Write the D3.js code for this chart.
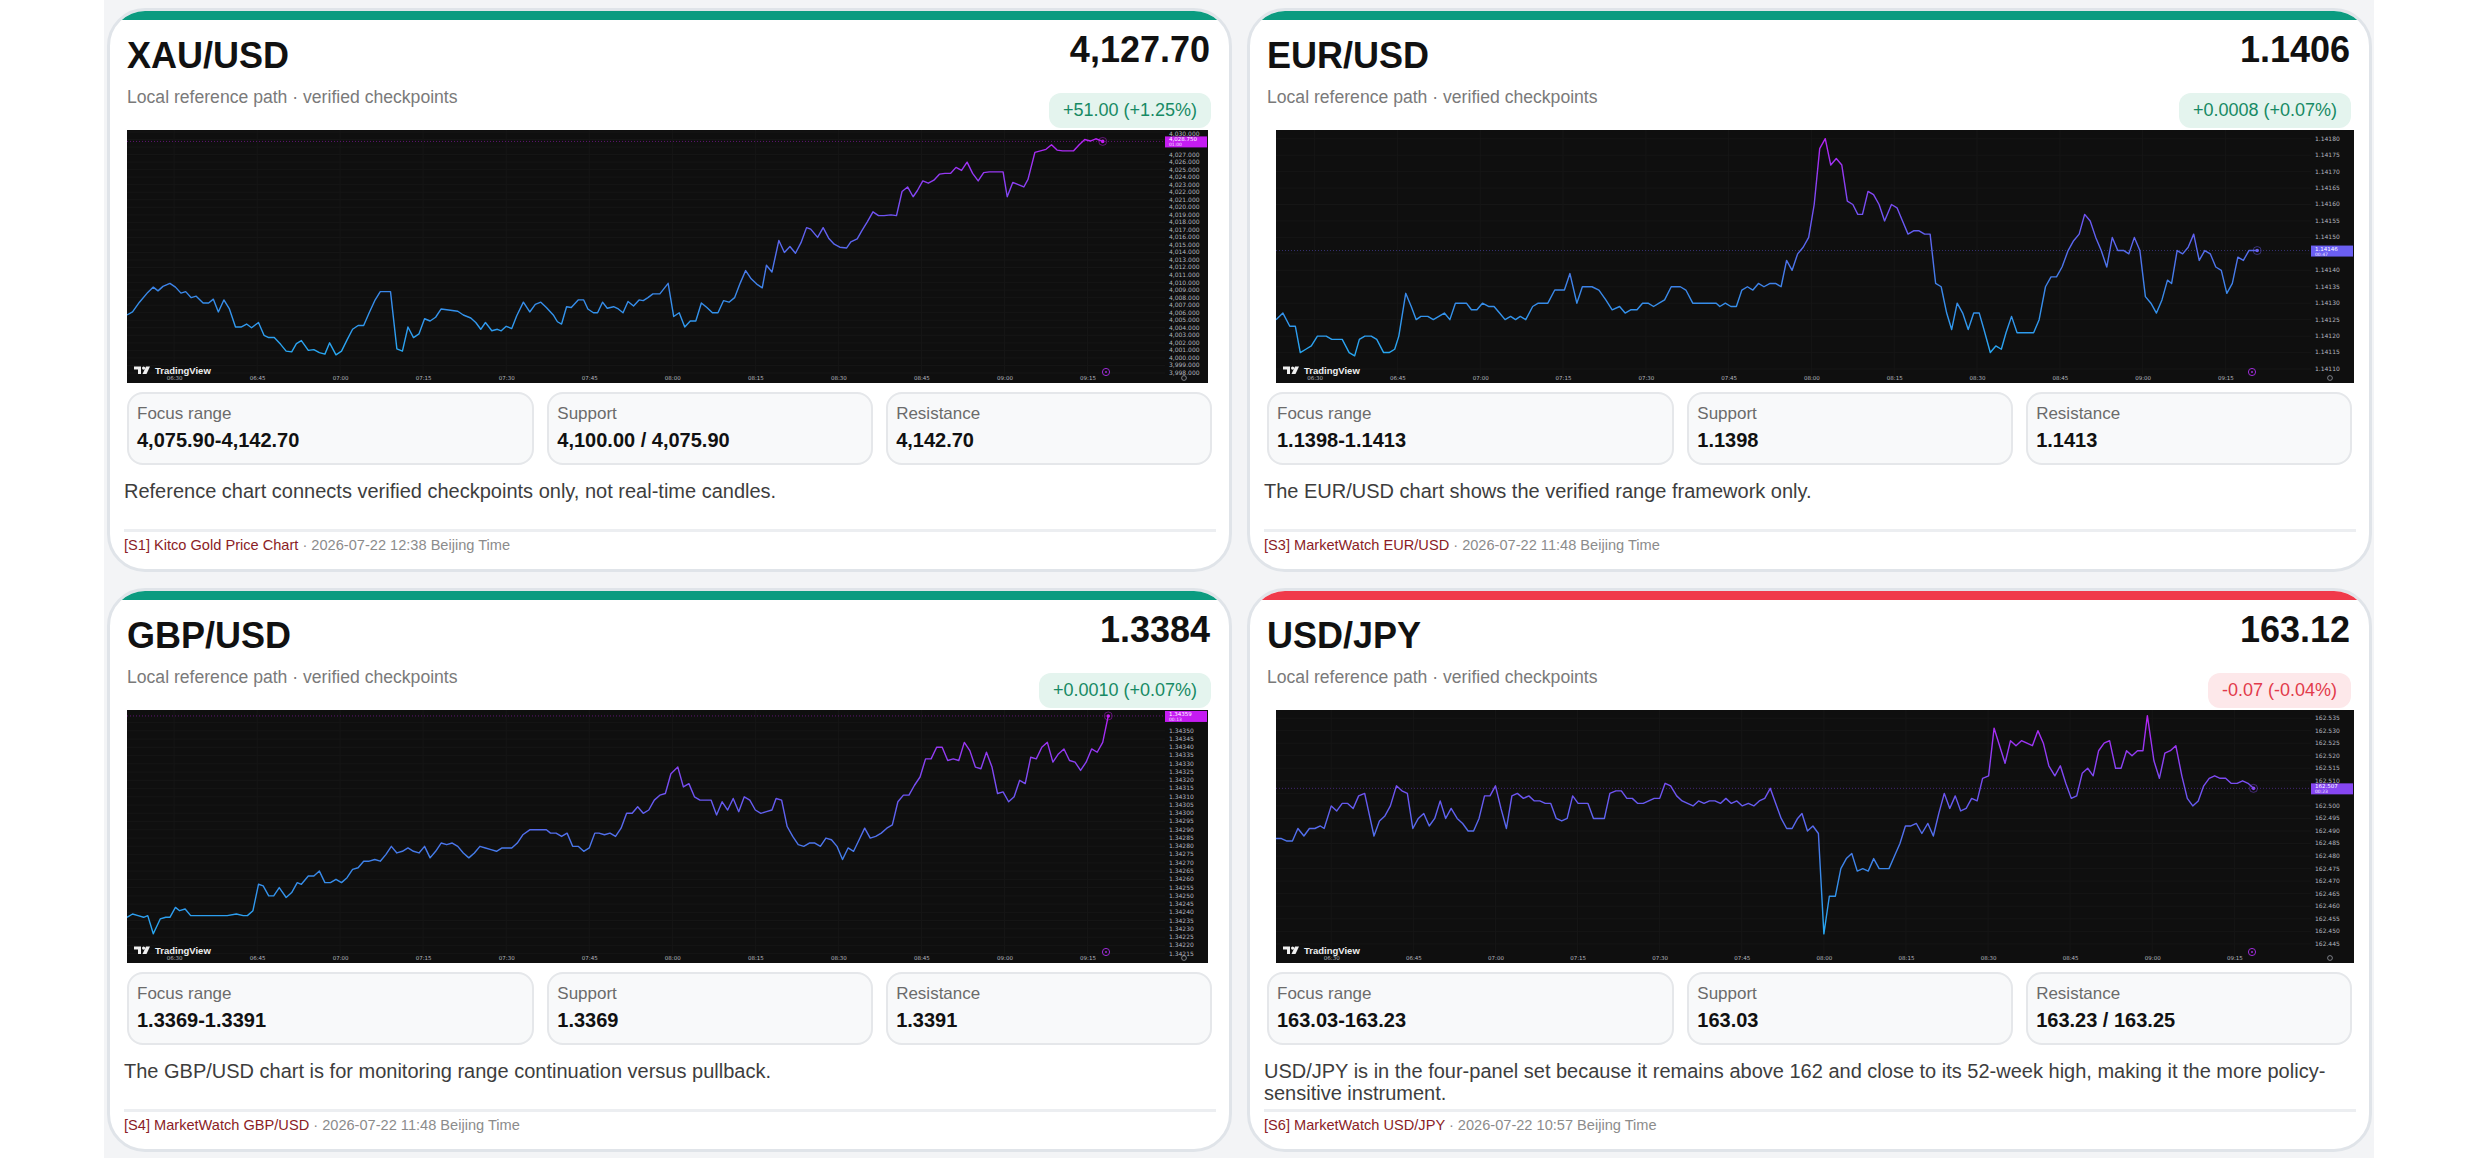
<!DOCTYPE html>
<html>
<head>
<meta charset="utf-8">
<script src="https://cdn.jsdelivr.net/npm/d3@7"></script>
<style>
html, body { margin: 0; padding: 0; width: 2480px; height: 1158px; overflow: hidden; background: #fff;
  font-family: "Liberation Sans", Arial, Helvetica, sans-serif; }
#page { position: absolute; left: 104px; top: 0; width: 2270px; height: 1158px; background: #f3f4f6; }
.card { position: absolute; width: 1125px; height: 564px; box-sizing: border-box; border: 3px solid #e0e4e9;
  border-radius: 38px; background: #fff; overflow: hidden; }
.card > * { position: absolute; }
.bar { left: 0; top: 0; width: 100%; height: 9px; }
.bar.up { background: #0b9b80; }
.bar.down { background: #f03a4a; }
.title { left: 17px; top: 27px; font-weight: bold; font-size: 36px; line-height: 36px; color: #111; }
.price { right: 19px; top: 21px; font-weight: bold; font-size: 36px; line-height: 36px; color: #111; }
.sub { left: 17px; top: 76px; font-size: 17.6px; line-height: 20px; color: #7a7a7a; white-space: nowrap; }
.badge { right: 18px; top: 82px; height: 35px; line-height: 35px; padding: 0 14px; border-radius: 12px; font-size: 18px; white-space: nowrap; }
.badge.up { background: #e4f4ee; color: #178a64; }
.badge.down { background: #fde8ea; color: #e23b4b; }
.chart { top: 119px; }
.stats { left: 17px; top: 381px; width: 1085px; display: grid; grid-template-columns: 1.25fr 1fr 1fr; column-gap: 13px; }
.stat { height: 73px; box-sizing: border-box; border: 2px solid #e5e7ea; border-radius: 16px; background: #f8f9fa; padding: 10px 8px 0 8px; }
.lab { font-size: 17px; line-height: 20px; color: #6b6b6b; white-space: nowrap; }
.val { font-size: 20px; line-height: 24px; font-weight: bold; color: #111; margin-top: 4px; white-space: nowrap; }
.note { left: 14px; top: 469px; width: 1092px; font-size: 20px; line-height: 22px; color: #3d3d3d; }
.rule { left: 14px; top: 518px; width: 1092px; height: 3px; background: #eceef1; }
.foot { left: 14px; top: 525px; font-size: 14.6px; line-height: 18px; color: #8c8c8c; white-space: nowrap; }
.foot .src { color: #8b1d26; }
</style>
</head>
<body>
<div id="page"></div>
<script>
// card text
var pairs = ["XAU/USD", "EUR/USD", "GBP/USD", "USD/JPY"];
var lastPrices = ["4,127.70", "1.1406", "1.3384", "163.12"];
var changes = ["+51.00 (+1.25%)", "+0.0008 (+0.07%)", "+0.0010 (+0.07%)", "-0.07 (-0.04%)"];
var directions = ["up", "up", "up", "down"];
var focusRanges = ["4,075.90-4,142.70", "1.1398-1.1413", "1.3369-1.3391", "163.03-163.23"];
var supports = ["4,100.00 / 4,075.90", "1.1398", "1.3369", "163.03"];
var resistances = ["4,142.70", "1.1413", "1.3391", "163.23 / 163.25"];
var notes = [
  "Reference chart connects verified checkpoints only, not real-time candles.",
  "The EUR/USD chart shows the verified range framework only.",
  "The GBP/USD chart is for monitoring range continuation versus pullback.",
  "USD/JPY is in the four-panel set because it remains above 162 and close to its 52-week high, making it the more policy-sensitive instrument."
];
var sources = ["[S1] Kitco Gold Price Chart", "[S3] MarketWatch EUR/USD", "[S4] MarketWatch GBP/USD", "[S6] MarketWatch USD/JPY"];
var stamps = ["2026-07-22 12:38 Beijing Time", "2026-07-22 11:48 Beijing Time", "2026-07-22 11:48 Beijing Time", "2026-07-22 10:57 Beijing Time"];

// chart series: [minutes after 06:00, price]
var xauSeries = [[21.5,4005.7],[22.5,4006.1],[23.75,4007.4],[25.25,4008.7],[26.25,4009.4],[27.1,4008.9],[28,4009.5],[29.25,4009.9],[30.25,4009.4],[31.25,4008.6],[32.1,4008.8],[33.1,4008.0],[34,4008.2],[35.25,4007.3],[36.25,4007.3],[37.1,4007.8],[38,4006.1],[39,4007.7],[40,4006.5],[41.1,4004.1],[42.1,4004.1],[43.1,4004.5],[44,4004.0],[45.25,4004.7],[46.25,4003.0],[47.1,4002.7],[48.1,4002.7],[49.25,4001.8],[50.25,4000.9],[51.25,4000.8],[52.1,4001.9],[53,4002.3],[54.25,4001.0],[55.25,4001.1],[56.25,4000.7],[57.25,4000.5],[58.1,4002.0],[59.25,4000.4],[60.25,4000.9],[61.25,4002.4],[62.25,4003.8],[63.25,4004.3],[64.25,4004.3],[65.25,4006.0],[66.25,4007.6],[67.25,4008.8],[69.1,4008.8],[70.25,4001.2],[71.25,4000.9],[72.25,4004.1],[73.25,4002.7],[74.25,4003.2],[75.25,4005.2],[76.25,4004.9],[77.25,4005.4],[78.25,4006.5],[79.25,4006.4],[81.25,4006.2],[82.25,4005.7],[83.6,4005.3],[84.5,4004.7],[85.4,4003.8],[86.25,4004.7],[87.4,4003.6],[88.4,4003.8],[89.1,4003.6],[90,4004.2],[91,4003.9],[91.9,4005.6],[93.1,4007.4],[94.25,4006.1],[95.25,4007.1],[96.25,4007.4],[97.25,4006.7],[98.5,4005.7],[99.25,4004.8],[100,4004.5],[100.9,4006.8],[101.75,4006.7],[103,4007.7],[104,4007.7],[104.75,4006.5],[105.75,4006.0],[106.5,4006.0],[107.4,4007.4],[108.25,4006.6],[109.4,4006.8],[110.25,4006.5],[111.1,4006.0],[112,4007.5],[113,4006.9],[114,4007.7],[114.75,4007.6],[115.6,4008.0],[116.5,4008.5],[117.75,4008.5],[119.25,4009.9],[120.25,4005.5],[121.25,4006.0],[122.25,4004.1],[123.25,4004.9],[124.25,4004.9],[125.25,4007.3],[126.25,4006.7],[127.25,4006.0],[128.25,4006.0],[129.25,4007.6],[130.25,4007.4],[131.25,4008.0],[132.25,4009.9],[133.25,4011.6],[134.25,4010.5],[135.25,4009.8],[136.25,4009.3],[137,4012.3],[138,4011.4],[139.25,4015.6],[140.25,4014.0],[141.25,4014.8],[142.25,4013.9],[143.25,4015.3],[144.25,4017.3],[145,4017.1],[146.25,4016.0],[147.25,4017.3],[148.25,4015.9],[149.25,4015.1],[150.25,4014.7],[151.5,4014.6],[152.25,4015.4],[153.4,4015.8],[154.25,4016.9],[155.25,4018.1],[156.25,4019.4],[157.25,4018.9],[158.25,4018.9],[159.5,4019.0],[160.5,4018.9],[161.5,4022.1],[162.5,4022.7],[163.5,4021.4],[164.25,4022.2],[165.25,4023.5],[166.25,4023.2],[167.25,4023.6],[168.25,4024.4],[169.25,4024.5],[170.25,4024.5],[171.25,4025.3],[172.25,4024.9],[173.25,4026.0],[174.25,4024.5],[175.25,4023.5],[176.25,4024.6],[177.25,4024.7],[178.75,4024.7],[179.75,4024.7],[180.5,4021.4],[181.5,4023.3],[182.5,4023.0],[183.5,4022.7],[184.25,4023.7],[185.5,4027.3],[186.5,4027.5],[187.5,4027.7],[188.5,4028.3],[189.5,4027.6],[190.5,4027.5],[191.5,4027.5],[192.5,4027.5],[193.5,4028.3],[194.5,4029.0],[195.5,4028.8],[196.5,4029.1],[197.75,4028.75]];

var eurSeries = [[23,1.14125],[24.25,1.14127],[25.5,1.14123],[26.5,1.14123],[27.4,1.14115],[28.4,1.14116],[29.4,1.14117],[30.5,1.14120],[32.1,1.14120],[33.1,1.14119],[35,1.14119],[36.25,1.14115],[37.25,1.14114],[38.1,1.14119],[39.1,1.14120],[40.25,1.14120],[41.25,1.14119],[42.5,1.14115],[43.5,1.14115],[44.5,1.14116],[45.25,1.14120],[46.5,1.14133],[47.5,1.14129],[48.4,1.14125],[49.25,1.14126],[50.5,1.14126],[51.5,1.14125],[52.5,1.14126],[53.5,1.14127],[54.5,1.14125],[55.5,1.14130],[57.5,1.14130],[58.4,1.14128],[59.4,1.14128],[60.4,1.14130],[61.5,1.14129],[62.5,1.14129],[63.5,1.14127],[64.5,1.14125],[65.5,1.14126],[66.4,1.14125],[67.25,1.14126],[68.25,1.14125],[69.5,1.14129],[70.5,1.14130],[72.25,1.14130],[73.5,1.14134],[75.25,1.14134],[76.25,1.14139],[77.5,1.14130],[78.5,1.14135],[80.25,1.14135],[81.5,1.14134],[82.75,1.14131],[83.9,1.14128],[85.25,1.14129],[86.25,1.14127],[87.25,1.14128],[88.4,1.14128],[89.4,1.14130],[90.4,1.14130],[91.4,1.14129],[92.4,1.14130],[93.4,1.14131],[94.6,1.14135],[96.25,1.14135],[97.25,1.14134],[98.5,1.14130],[102.75,1.14130],[103.4,1.14129],[104.4,1.14130],[105.4,1.14129],[106.4,1.14129],[107.4,1.14134],[108.4,1.14135],[109.4,1.14134],[110.4,1.14136],[111.4,1.14135],[112.5,1.14136],[113.5,1.14136],[114.5,1.14135],[115.5,1.14143],[116.5,1.14140],[117.5,1.14145],[118.5,1.14147],[119.5,1.14150],[120.5,1.14160],[121.5,1.14177],[122.5,1.14180],[123.5,1.14172],[124.5,1.14174],[125.5,1.14172],[126.5,1.14161],[127.5,1.14160],[128.4,1.14157],[129.25,1.14157],[130.25,1.14164],[131.25,1.14163],[132.25,1.14160],[133.25,1.14155],[134.5,1.14160],[135.5,1.14159],[136.5,1.14155],[137.5,1.14151],[138.5,1.14152],[139.5,1.14152],[140.5,1.14151],[141.5,1.14151],[142.5,1.14136],[143.5,1.14135],[144.5,1.14127],[145.4,1.14122],[146.4,1.14130],[147.4,1.14127],[148.4,1.14122],[149.4,1.14127],[150.4,1.14127],[151.25,1.14122],[152.4,1.14115],[153.4,1.14117],[154.4,1.14116],[155.25,1.14121],[156.25,1.14126],[157.25,1.14121],[160.25,1.14121],[161.25,1.14125],[162.4,1.14135],[163.4,1.14138],[164.4,1.14138],[165.4,1.14141],[166.5,1.14146],[167.5,1.14149],[168.5,1.14151],[169.5,1.14157],[170.5,1.14155],[171.5,1.14150],[172.5,1.14146],[173.5,1.14141],[174.5,1.14150],[175.5,1.14146],[176.6,1.14146],[177.5,1.14145],[178.5,1.14150],[179.5,1.14146],[180.5,1.14132],[181.5,1.14130],[182.5,1.14127],[183.5,1.14131],[184.5,1.14137],[185.25,1.14136],[186.25,1.14146],[187.25,1.14145],[188.25,1.14147],[189.25,1.14151],[190.25,1.14143],[191.25,1.14146],[192.25,1.14145],[193.25,1.14141],[194.25,1.14140],[195.25,1.14133],[196.25,1.14136],[197.25,1.14144],[198.25,1.14143],[199.25,1.14146],[200.75,1.14146]];

var gbpSeries = [[21.5,1.34237],[22.5,1.34239],[23.5,1.34238],[24.5,1.34237],[25.25,1.34238],[26.25,1.34227],[27.5,1.34236],[28.5,1.34237],[29.25,1.34237],[30.25,1.34243],[31,1.34241],[32,1.34242],[33,1.34238],[34.5,1.34238],[35.5,1.34238],[36.5,1.34238],[38.4,1.34238],[39.6,1.34238],[41.25,1.34239],[42.5,1.34238],[43.25,1.34238],[44.25,1.34241],[45.25,1.34257],[46.1,1.34256],[47.1,1.34250],[48,1.34250],[49,1.34255],[50.25,1.34249],[51.25,1.34252],[52.25,1.34258],[53,1.34257],[54.25,1.34262],[55.25,1.34262],[56.25,1.34265],[57.25,1.34258],[58.25,1.34258],[59.25,1.34260],[60.25,1.34258],[61.25,1.34261],[62.25,1.34266],[63.25,1.34267],[64.25,1.34271],[65.25,1.34271],[66.25,1.34272],[67.25,1.34271],[68.25,1.34275],[69.25,1.34280],[70.25,1.34276],[71.25,1.34277],[72.25,1.34279],[73.25,1.34277],[74.25,1.34276],[75.25,1.34280],[76.25,1.34273],[77.25,1.34277],[78.25,1.34282],[79.25,1.34281],[80.25,1.34282],[81.25,1.34280],[82.25,1.34276],[83.25,1.34273],[84.25,1.34276],[85.25,1.34280],[86.25,1.34279],[87.25,1.34278],[88.25,1.34277],[89.25,1.34279],[91,1.34279],[92,1.34282],[93,1.34287],[94.25,1.34290],[95.25,1.34290],[97.25,1.34290],[98,1.34288],[99,1.34288],[100,1.34286],[101,1.34288],[102,1.34280],[103,1.34280],[104,1.34277],[105,1.34279],[106,1.34288],[106.75,1.34288],[107.75,1.34287],[108.75,1.34288],[109.75,1.34286],[110.75,1.34291],[111.75,1.34300],[112.75,1.34300],[113.75,1.34304],[114.75,1.34300],[115.75,1.34302],[116.75,1.34308],[117.75,1.34311],[118.75,1.34312],[119.75,1.34324],[121,1.34328],[122,1.34316],[123,1.34318],[124,1.34310],[125,1.34308],[126,1.34308],[127,1.34308],[128,1.34299],[129,1.34307],[130,1.34302],[131,1.34309],[132,1.34301],[133,1.34310],[134,1.34308],[135,1.34302],[136,1.34300],[137,1.34301],[138,1.34302],[138.75,1.34309],[139.75,1.34308],[140.75,1.34292],[141.75,1.34286],[142.75,1.34281],[143.75,1.34280],[144.75,1.34282],[145.75,1.34282],[146.75,1.34280],[147.75,1.34285],[148.75,1.34284],[149.75,1.34280],[150.75,1.34272],[151.75,1.34279],[152.75,1.34277],[153.75,1.34284],[154.75,1.34291],[155.75,1.34285],[156.75,1.34286],[157.75,1.34288],[158.75,1.34291],[159.75,1.34293],[160.75,1.34307],[161.75,1.34311],[162.75,1.34311],[163.75,1.34317],[164.75,1.34322],[165.75,1.34333],[166.75,1.34333],[167.75,1.34340],[168.75,1.34340],[169.75,1.34332],[170.75,1.34333],[171.75,1.34332],[172.75,1.34343],[173.75,1.34338],[174.75,1.34328],[175.75,1.34327],[176.75,1.34337],[177.75,1.34328],[178.75,1.34312],[179.75,1.34313],[180.75,1.34307],[181.75,1.34310],[182.75,1.34320],[183.75,1.34318],[184.75,1.34334],[185.75,1.34333],[186.75,1.34340],[187.75,1.34343],[188.75,1.34331],[189.75,1.34336],[190.75,1.34339],[191.75,1.34332],[192.75,1.34331],[193.75,1.34326],[194.75,1.34331],[195.75,1.34339],[196.75,1.34337],[197.75,1.34343],[198.75,1.34359]];

var jpySeries = [[19.9,162.487],[20.9,162.487],[21.9,162.486],[22.9,162.486],[23.9,162.491],[25,162.488],[26,162.491],[27,162.491],[28,162.492],[28.7,162.491],[30,162.500],[31,162.498],[32,162.501],[33,162.501],[34,162.499],[35,162.504],[36.1,162.505],[37.1,162.495],[37.8,162.488],[38.8,162.494],[39.8,162.496],[40.8,162.500],[41.9,162.508],[42.9,162.506],[43.9,162.505],[44.9,162.491],[45.9,162.495],[46.9,162.497],[47.9,162.492],[48.9,162.495],[49.9,162.502],[50.9,162.495],[51.9,162.499],[53,162.495],[54,162.493],[55,162.490],[56,162.490],[57,162.495],[58,162.504],[59,162.504],[60,162.508],[61,162.499],[62,162.491],[63,162.504],[64,162.505],[65.1,162.503],[66.1,162.504],[67.1,162.502],[68.1,162.502],[69.1,162.501],[70.1,162.501],[71.1,162.495],[72.1,162.494],[73.1,162.495],[74.1,162.504],[75.1,162.501],[76.2,162.501],[76.9,162.501],[77.9,162.495],[79.9,162.495],[80.9,162.505],[82,162.506],[83,162.506],[84,162.503],[85,162.503],[86,162.501],[87,162.501],[88,162.502],[89,162.503],[90,162.503],[91,162.509],[92,162.508],[93.1,162.504],[94.1,162.502],[95.1,162.501],[96.1,162.500],[97.1,162.502],[98.1,162.501],[99.1,162.502],[100.1,162.502],[101.1,162.501],[102.1,162.503],[103.1,162.501],[104.1,162.502],[105.1,162.500],[106.2,162.501],[107.2,162.500],[108.2,162.502],[109.2,162.503],[110.2,162.507],[111.2,162.501],[112.2,162.495],[113.2,162.491],[114.2,162.491],[115.2,162.495],[116,162.497],[117,162.490],[118,162.492],[119,162.489],[120,162.449],[121,162.464],[122.1,162.464],[123.1,162.475],[124.1,162.479],[125.1,162.481],[126.1,162.474],[127.1,162.475],[128.1,162.474],[129.1,162.479],[130.1,162.475],[131.9,162.475],[132.9,162.480],[133.9,162.485],[134.9,162.492],[135.9,162.492],[136.9,162.493],[137.9,162.489],[139,162.493],[140,162.488],[141,162.497],[142,162.505],[143,162.499],[144,162.504],[145,162.498],[146,162.499],[147,162.503],[148,162.502],[149,162.511],[150.1,162.512],[151.1,162.531],[152.1,162.524],[153.1,162.517],[154.1,162.526],[155.1,162.524],[156.1,162.526],[157.1,162.525],[158.1,162.524],[159.1,162.530],[160.1,162.525],[161.1,162.516],[162.2,162.512],[163.2,162.516],[164.2,162.509],[165.2,162.503],[166.2,162.504],[167.2,162.513],[168.2,162.515],[169.2,162.512],[170.2,162.522],[171.2,162.525],[172.2,162.526],[173.3,162.515],[174.3,162.515],[175.3,162.522],[176.3,162.520],[177.3,162.522],[178.3,162.522],[179.1,162.536],[180.3,162.518],[181.3,162.511],[182.3,162.521],[183.3,162.522],[184.3,162.524],[185.4,162.512],[186.4,162.503],[187.4,162.500],[188.4,162.502],[189.4,162.508],[190.4,162.511],[191.4,162.512],[192.4,162.511],[193.4,162.511],[194.4,162.509],[195.5,162.509],[196.5,162.510],[197.5,162.509],[198.5,162.507]];

// axis labels
var timeTicks = [30, 45, 60, 75, 90, 105, 120, 135, 150, 165, 180, 195];
var priceTagValues = ["4,028.750", "1.14146", "1.34359", "162.507"];
var priceTagTimers = ["01:00", "00:47", "00:13", "00:23"];

var charts = [
  { series: xauSeries, t0: 21.5, t1: 209, domain: [4000, 4030], range: [227.9, 2.0], ticks: [3998, 4030, 1], fmt: ",.3f", tag: "#c51cf2" },
  { series: eurSeries, t0: 23.0, t1: 210.5, domain: [1.14110, 1.14180], range: [239.0, 8.7], ticks: [1.14110, 1.14180, 0.00005], fmt: ".5f", tag: "#6b5ff2" },
  { series: gbpSeries, t0: 21.5, t1: 209, domain: [1.34215, 1.34350], range: [243.6, 20.8], ticks: [1.34215, 1.34355, 0.00005], fmt: ".5f", tag: "#c51cf2" },
  { series: jpySeries, t0: 19.9, t1: 209, domain: [162.445, 162.535], range: [233.9, 8.1], ticks: [162.445, 162.535, 0.005], fmt: ".3f", tag: "#8646f2" }
];

var cardPos = [[107, 8], [1247, 8], [107, 588], [1247, 588]];
// chart frame per column: [left inside card, width]
var chartFrame = [[17, 1081], [26, 1078], [17, 1081], [26, 1078]];
var H = 253;

function hhmm(t) {
  var h = Math.floor(t / 60) + 6, m = t % 60;
  return (h < 10 ? "0" : "") + h + ":" + (m < 10 ? "0" : "") + m;
}

function drawChart(svg, cfg, i) {
  var W = chartFrame[i][1], PW = W - 43;
  svg.style("left", chartFrame[i][0] + "px").attr("width", W).attr("height", H);
  svg.append("rect").attr("width", W).attr("height", H).attr("fill", "#0f0f0f");

  var x = d3.scaleLinear().domain([cfg.t0, cfg.t1]).range([0, PW]);
  var y = d3.scaleLinear().domain(cfg.domain).range(cfg.range);
  var ticks = d3.range(cfg.ticks[0], cfg.ticks[1] + cfg.ticks[2] / 2, cfg.ticks[2]);
  var last = cfg.series[cfg.series.length - 1];
  var tagY = y(last[1]);

  // faint grid
  svg.append("g").selectAll("line").data(ticks).join("line")
    .attr("x1", 0).attr("x2", PW).attr("y1", function(d) { return y(d); }).attr("y2", function(d) { return y(d); })
    .attr("stroke", "#161616").attr("stroke-width", 1);
  svg.append("g").selectAll("line").data(timeTicks).join("line")
    .attr("y1", 0).attr("y2", 245).attr("x1", function(d) { return x(d); }).attr("x2", function(d) { return x(d); })
    .attr("stroke", "#161616").attr("stroke-width", 1);

  // price axis (labels under the price tag are hidden, as on the source)
  var shown = ticks.filter(function(d) { return Math.abs(y(d) - tagY) > 7.5; });
  var ya = svg.append("g").attr("transform", "translate(" + (PW + 4) + ",0)")
    .call(d3.axisRight(y).tickValues(shown).tickSize(0).tickPadding(0).tickFormat(d3.format(cfg.fmt)));
  ya.select(".domain").remove();
  // keep the top label inside the frame
  ya.selectAll(".tick").attr("transform", function(d) { return "translate(0," + Math.max(3.6, y(d)) + ")"; });
  ya.selectAll("text").attr("fill", "#b2b5be").attr("font-size", 6).attr("font-family", "DejaVu Sans, sans-serif");

  // time axis
  var xa = svg.append("g").attr("transform", "translate(0,246)")
    .call(d3.axisBottom(x).tickValues(timeTicks).tickSize(0).tickPadding(0).tickFormat(hhmm));
  xa.select(".domain").remove();
  xa.selectAll("text").attr("fill", "#b2b5be").attr("font-size", 5.5).attr("font-family", "DejaVu Sans, sans-serif");

  // value gradient
  var ext = d3.extent(cfg.series, function(d) { return d[1]; });
  var grad = svg.append("defs").append("linearGradient").attr("id", "lg" + i)
    .attr("gradientUnits", "userSpaceOnUse").attr("x1", 0).attr("x2", 0)
    .attr("y1", y(ext[0])).attr("y2", y(ext[1]));
  [[0, "#27a8f2"], [0.3, "#3a86e8"], [0.62, "#6a57f2"], [1, "#b522f3"]].forEach(function(s) {
    grad.append("stop").attr("offset", s[0]).attr("stop-color", s[1]);
  });

  // last price dotted line
  svg.append("line").attr("x1", 0).attr("x2", PW).attr("y1", tagY).attr("y2", tagY)
    .attr("stroke", cfg.tag).attr("stroke-opacity", 0.55).attr("stroke-dasharray", "1,2").attr("stroke-width", 0.8);

  svg.append("path").datum(cfg.series)
    .attr("d", d3.line().x(function(d) { return x(d[0]); }).y(function(d) { return y(d[1]); }))
    .attr("fill", "none").attr("stroke", "url(#lg" + i + ")").attr("stroke-width", 1.4)
    .attr("stroke-linejoin", "round");

  // end marker
  svg.append("circle").attr("cx", x(last[0])).attr("cy", tagY).attr("r", 1.8).attr("fill", cfg.tag);
  svg.append("circle").attr("cx", x(last[0])).attr("cy", tagY).attr("r", 4)
    .attr("fill", "none").attr("stroke", cfg.tag).attr("stroke-opacity", 0.45).attr("stroke-width", 1);

  // price tag on axis
  var tgY = Math.max(0.5, tagY - 5);
  var tg = svg.append("g").attr("transform", "translate(" + PW + "," + tgY + ")");
  tg.append("rect").attr("width", 42).attr("height", 11).attr("fill", cfg.tag);
  tg.append("text").attr("x", 4).attr("y", 5).attr("font-size", 5.5).attr("fill", "#fff")
    .attr("font-family", "DejaVu Sans, sans-serif").text(priceTagValues[i]);
  tg.append("text").attr("x", 4).attr("y", 10).attr("font-size", 4.5).attr("fill", "#f0e6ff")
    .attr("font-family", "DejaVu Sans, sans-serif").text(priceTagTimers[i]);

  // TradingView mark
  var lg = svg.append("g").attr("transform", "translate(7,236.5)").attr("fill", "#f0f0f0");
  lg.append("path").attr("d", "M0 0 H7 V7.5 H4 V3 H0 Z");
  lg.append("circle").attr("cx", 9.6).attr("cy", 1.6).attr("r", 1.6);
  lg.append("path").attr("d", "M12 0 H16 L12.5 7.5 H8.5 Z");
  svg.append("text").attr("x", 28).attr("y", 243.5).attr("font-size", 9.5).attr("font-weight", "bold")
    .attr("fill", "#f0f0f0").attr("font-family", "Liberation Sans, Arial, sans-serif").text("TradingView");

  // small icons bottom right
  svg.append("circle").attr("cx", PW - 59).attr("cy", 242).attr("r", 3.6)
    .attr("fill", "none").attr("stroke", "#9c2bd6").attr("stroke-width", 1);
  svg.append("circle").attr("cx", PW - 59).attr("cy", 242).attr("r", 1).attr("fill", "#9c2bd6");
  svg.append("circle").attr("cx", W - 24).attr("cy", 248).attr("r", 2.4)
    .attr("fill", "none").attr("stroke", "#9598a1").attr("stroke-width", 0.8);
}

var body = d3.select("body");
pairs.forEach(function(p, i) {
  var dir = directions[i];
  var card = body.append("div").attr("class", "card")
    .style("left", cardPos[i][0] + "px").style("top", cardPos[i][1] + "px");
  card.append("div").attr("class", "bar " + dir);
  card.append("div").attr("class", "title").text(p);
  card.append("div").attr("class", "price").text(lastPrices[i]);
  card.append("div").attr("class", "sub").text("Local reference path \u00b7 verified checkpoints");
  card.append("div").attr("class", "badge " + dir).text(changes[i]);
  drawChart(card.append("svg").attr("class", "chart"), charts[i], i);

  var stats = card.append("div").attr("class", "stats");
  [["Focus range", focusRanges[i]], ["Support", supports[i]], ["Resistance", resistances[i]]].forEach(function(s) {
    var box = stats.append("div").attr("class", "stat");
    box.append("div").attr("class", "lab").text(s[0]);
    box.append("div").attr("class", "val").text(s[1]);
  });

  card.append("div").attr("class", "note").text(notes[i]);
  card.append("div").attr("class", "rule");
  var foot = card.append("div").attr("class", "foot");
  foot.append("span").attr("class", "src").text(sources[i]);
  foot.append("span").text(" \u00b7 " + stamps[i]);
});
</script>
</body>
</html>
